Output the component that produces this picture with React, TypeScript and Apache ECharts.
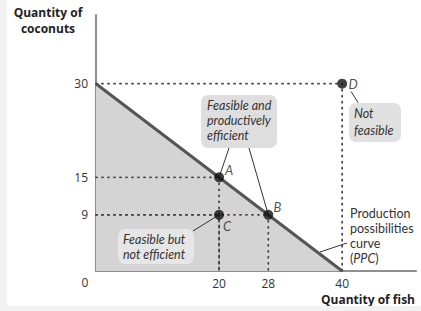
import React, { useEffect, useRef } from "react";
import * as echarts from "echarts";

const pointNames = ["A", "B", "C", "D"];
const pointFish = [20, 28, 20, 40];
const pointCoconuts = [15, 9, 9, 30];
const ppcFish = [0, 40];
const ppcCoconuts = [30, 0];
const xTickLabels = [20, 28, 40];
const yTickLabels = [9, 15, 30];
const xTickMarks = [20, 28];
const yTickMarks = [9, 15];

const FONT = "'Open Sans', 'Noto Sans', sans-serif";
const NOTE_FONT = "Lato, 'Open Sans', sans-serif";
const AXIS_COLOR = "#8e8e8e";
const DOT_STYLE = { type: [1, 5] as number[], width: 1.8, cap: "round" as const, color: "#444" };

export default function App() {
  const ref = useRef<HTMLDivElement>(null);
  useEffect(() => {
    if (!ref.current) return;
    const chart = echarts.init(ref.current, undefined, { renderer: "svg" });
    const guides: [number, number][][] = [];
    pointNames.forEach((_, i) => {
      const fx = pointFish[i];
      const cy = pointCoconuts[i];
      guides.push([[0, cy], [fx, cy]]);
      guides.push([[fx, cy], [fx, 0]]);
    });
    const labelOffsets: Record<string, number[]> = {
      A: [10, -7],
      B: [9, -8],
      C: [8, 11],
      D: [11, 0],
    };
    chart.setOption({
      animation: false,
      grid: { left: 89, right: 5, top: 15, bottom: 35 },
      xAxis: {
        type: "value",
        min: 0,
        max: 52,
        axisLine: { lineStyle: { color: AXIS_COLOR, width: 2 } },
        axisTick: {
          show: true,
          inside: true,
          length: 10,
          customValues: xTickMarks,
          lineStyle: { color: "#555", width: 1 },
        },
        axisLabel: {
          customValues: xTickLabels,
          color: "#333",
          fontSize: 12,
          fontFamily: FONT,
          margin: 6,
        },
        splitLine: { show: false },
      },
      yAxis: {
        type: "value",
        min: 0,
        max: 41,
        axisLine: { show: true, lineStyle: { color: AXIS_COLOR, width: 2 } },
        axisTick: {
          show: true,
          inside: true,
          length: 10,
          customValues: yTickMarks,
          lineStyle: { color: "#555", width: 1 },
        },
        axisLabel: {
          customValues: yTickLabels,
          color: "#333",
          fontSize: 12,
          fontFamily: FONT,
          margin: 8,
        },
        splitLine: { show: false },
      },
      series: [
        {
          type: "line",
          data: ppcFish.map((f, i) => [f, ppcCoconuts[i]]),
          showSymbol: false,
          silent: true,
          lineStyle: { color: "#555", width: 3 },
          areaStyle: { color: "#d4d4d4", opacity: 1 },
          z: 1,
        },
        ...guides.map((seg) => ({
          type: "line",
          data: seg,
          showSymbol: false,
          silent: true,
          lineStyle: DOT_STYLE,
          z: 2,
        })),
        {
          type: "scatter",
          data: pointNames.map((n, i) => ({
            name: n,
            value: [pointFish[i], pointCoconuts[i]],
            label: { offset: labelOffsets[n] },
          })),
          symbolSize: 10,
          itemStyle: { color: "#111" },
          label: {
            show: true,
            formatter: "{b}",
            position: "inside",
            color: "#222",
            fontSize: 13,
            fontStyle: "italic",
            fontFamily: NOTE_FONT,
          },
          z: 5,
        },
      ],
    });

    const px = (i: number) =>
      chart.convertToPixel({ gridIndex: 0 }, [pointFish[i], pointCoconuts[i]]) as number[];
    const A = px(0);
    const B = px(1);
    const C = px(2);
    const D = px(3);
    const boxText = {
      fill: "#333",
      fontSize: 12.5,
      fontStyle: "italic",
      fontFamily: NOTE_FONT,
    };
    const leader = { stroke: "#333", lineWidth: 1 };

    chart.setOption({
      graphic: [
        { type: "text", x: 41, y: 4, style: { text: "Quantity of\ncoconuts", fill: "#222", font: `bold 12px ${FONT}`, align: "center", lineHeight: 16 } },
        { type: "text", x: 408, y: 299, style: { text: "Quantity of fish", fill: "#222", font: `bold 12px ${FONT}`, align: "right", verticalAlign: "middle" } },
        { type: "text", x: 78, y: 282, style: { text: "0", fill: "#333", font: `12px ${FONT}`, align: "center", verticalAlign: "middle" } },
        // Box 1
        { type: "line", shape: { x1: 222, y1: 148, x2: A[0], y2: A[1] }, style: leader, z: 3 },
        { type: "line", shape: { x1: 242, y1: 148, x2: B[0], y2: B[1] }, style: leader, z: 3 },
        { type: "rect", shape: { x: 194, y: 95, width: 76, height: 53, r: 7 }, style: { fill: "#dedede" }, z: 4 },
        { type: "text", x: 200, y: 98, style: { ...boxText, text: "Feasible and\nproductively\nefficient", lineHeight: 15 }, z: 5 },
        // Not feasible
        { type: "line", shape: { x1: D[0] + 9, y1: D[1] + 8, x2: D[0] + 16, y2: D[1] + 19 }, style: leader, z: 3 },
        { type: "rect", shape: { x: 342, y: 103, width: 52, height: 39, r: 7 }, style: { fill: "#e0e0e0" }, z: 4 },
        { type: "text", x: 347, y: 105, style: { ...boxText, text: "Not\nfeasible", lineHeight: 17 }, z: 5 },
        // Feasible but not efficient
        { type: "line", shape: { x1: 186, y1: 231, x2: C[0], y2: C[1] }, style: leader, z: 3 },
        { type: "rect", shape: { x: 111, y: 229, width: 76, height: 35, r: 7 }, style: { fill: "#e6e6e6" }, z: 4 },
        { type: "text", x: 116, y: 232, style: { ...boxText, text: "Feasible but\nnot efficient", lineHeight: 15 }, z: 5 },
        // PPC label
        { type: "line", shape: { x1: 340, y1: 243, x2: 313, y2: 252 }, style: leader, z: 3 },
        {
          type: "text",
          x: 343,
          y: 206,
          style: {
            text: "Production\npossibilities\ncurve",
            fill: "#333",
            fontSize: 12.5,
            fontFamily: NOTE_FONT,
            lineHeight: 15,
          },
          z: 5,
        },
        {
          type: "text",
          x: 343,
          y: 251,
          style: {
            text: "({i|PPC})",
            fill: "#333",
            fontSize: 12.5,
            fontFamily: NOTE_FONT,
            lineHeight: 15,
            rich: { i: { fontStyle: "italic", fontSize: 12.5, fontFamily: NOTE_FONT, fill: "#333", lineHeight: 15 } },
          },
          z: 5,
        },
      ],
    });
    return () => chart.dispose();
  }, []);
  return (
    <div style={{ position: "fixed", left: 0, top: 0, width: 421, height: 311, background: "#f2f2f2" }}>
      <div ref={ref} style={{ position: "absolute", left: 7, top: 0, width: 414, height: 306, background: "#fff" }} />
    </div>
  );
}
